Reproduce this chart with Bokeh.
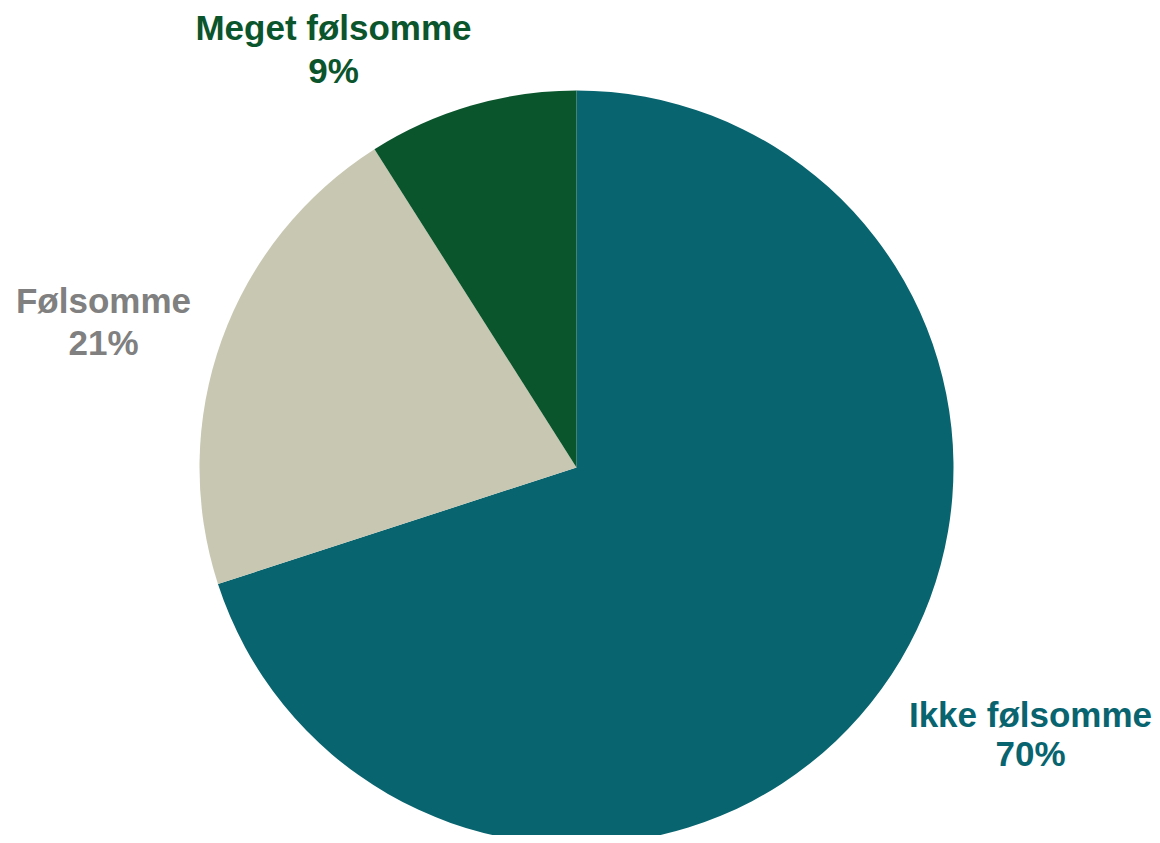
import numpy as np
from bokeh.plotting import figure
from bokeh.models import Range1d, ColumnDataSource
from bokeh.core.properties import value
from bokeh.embed import file_html
from bokeh.resources import INLINE

categories = ["Ikke følsomme", "Følsomme", "Meget følsomme"]
shares = [70, 21, 9]
colors = ["#08646F", "#C8C7B2", "#0B552D"]
label_colors = ["#08646F", "#808080", "#0B552D"]

W, H = 1152, 835
p = figure(width=W, height=H, output_backend="svg", toolbar_location=None,
           x_range=Range1d(0, W), y_range=Range1d(-H, 0),
           min_border=0, outline_line_color=None)
p.axis.visible = False
p.grid.visible = False

vals = np.array(shares, dtype=float)
frac = vals / vals.sum()
cum = np.concatenate([[0], np.cumsum(frac)])
start = np.pi / 2 - cum[:-1] * 2 * np.pi
end = np.pi / 2 - cum[1:] * 2 * np.pi

src = ColumnDataSource(dict(start=start, end=end, color=colors))
p.wedge(x=576, y=-467, radius=377, start_angle="start", end_angle="end",
        direction="clock", fill_color="color", line_color=None, source=src)

# label layout (pixel positions of label centres)
label_x = [1030, 103, 333]
label_y1 = [714, 300, 27]
label_y2 = [753, 342, 70]

lab = ColumnDataSource(dict(
    x=label_x + label_x,
    y=[-v for v in label_y1] + [-v for v in label_y2],
    t=categories + [f"{v}%" for v in shares],
    c=label_colors + label_colors,
))
p.text(x="x", y="y", text="t", text_color="c", source=lab,
       text_font=value("Liberation Sans"), text_font_style="bold",
       text_font_size="35px", text_align="center", text_baseline="middle")

open("out.html", "w").write(file_html(p, INLINE))
